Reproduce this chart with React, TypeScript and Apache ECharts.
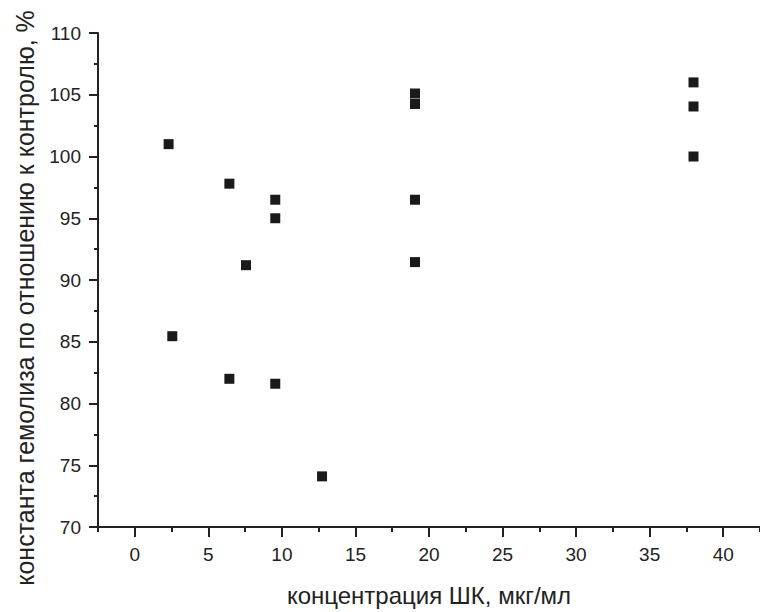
import React, { useEffect, useRef } from "react";
import * as echarts from "echarts";

const xValues = [2.3, 2.55, 6.43, 6.43, 7.56, 9.55, 9.55, 9.55, 12.73, 19.05, 19.05, 19.05, 19.05, 37.98, 37.98, 37.98];
const yValues = [101.0, 85.45, 97.8, 82.0, 91.2, 96.5, 95.0, 81.6, 74.1, 105.1, 104.25, 96.5, 91.45, 106.0, 104.05, 100.0];
const xMajorTicks = [0, 5, 10, 15, 20, 25, 30, 35, 40];
const xMinorTicks = [-2.5, 2.5, 7.5, 12.5, 17.5, 22.5, 27.5, 32.5, 37.5, 42.5];
const xTitle = "концентрация ШК, мкг/мл";
const yTitle = "константа гемолиза по отношению к контролю, %";

const FONT = "'Liberation Sans', Arial, sans-serif";
const INK = "#222222";

export default function App() {
  const ref = useRef<HTMLDivElement>(null);
  useEffect(() => {
    if (!ref.current) return;
    const chart = echarts.init(ref.current, undefined, { renderer: "svg" });
    const points = xValues.map((x, i) => [x, yValues[i]]);
    chart.setOption({
      animation: false,
      backgroundColor: "#ffffff",
      grid: { left: 98, top: 33, width: 669, height: 499, containLabel: false },
      xAxis: [
        {
          type: "value",
          position: "bottom",
          min: -2.5,
          max: 42.5,
          name: xTitle,
          nameLocation: "middle",
          nameGap: 56,
          nameTextStyle: { fontFamily: FONT, fontSize: 24, color: INK },
          axisLine: { show: true, onZero: false, lineStyle: { color: INK, width: 2 } },
          axisTick: { show: true, customValues: xMajorTicks, length: 10, lineStyle: { color: INK, width: 2 } },
          axisLabel: { show: true, customValues: xMajorTicks, margin: 18, fontFamily: FONT, fontSize: 19, color: INK },
          splitLine: { show: false },
        },
        {
          type: "value",
          position: "bottom",
          min: -2.5,
          max: 42.5,
          axisLine: { show: false, onZero: false },
          axisTick: { show: true, customValues: xMinorTicks, length: 5, lineStyle: { color: INK, width: 2 } },
          axisLabel: { show: false },
          splitLine: { show: false },
        },
      ],
      yAxis: {
        type: "value",
        min: 70,
        max: 110,
        interval: 5,
        axisLine: { show: true, onZero: false, lineStyle: { color: INK, width: 2 } },
        axisTick: { show: true, length: 9, lineStyle: { color: INK, width: 2 } },
        minorTick: { show: true, splitNumber: 2, length: 4, lineStyle: { color: INK, width: 2 } },
        axisLabel: { margin: 17, fontFamily: FONT, fontSize: 19, color: INK },
        splitLine: { show: false },
      },
      graphic: [
        {
          type: "text",
          x: 25,
          y: 298,
          rotation: Math.PI / 2,
          style: {
            text: yTitle,
            fontFamily: FONT,
            fontSize: 25,
            fill: INK,
            textAlign: "center",
            textVerticalAlign: "middle",
          },
        },
      ],
      series: [
        {
          type: "scatter",
          xAxisIndex: 0,
          data: points,
          symbol: "rect",
          symbolSize: 10,
          itemStyle: { color: "#1a1a1a", opacity: 1 },
        },
      ],
    });
    return () => chart.dispose();
  }, []);
  return <div ref={ref} style={{ position: "fixed", left: 0, top: 0, width: 760, height: 612 }} />;
}
